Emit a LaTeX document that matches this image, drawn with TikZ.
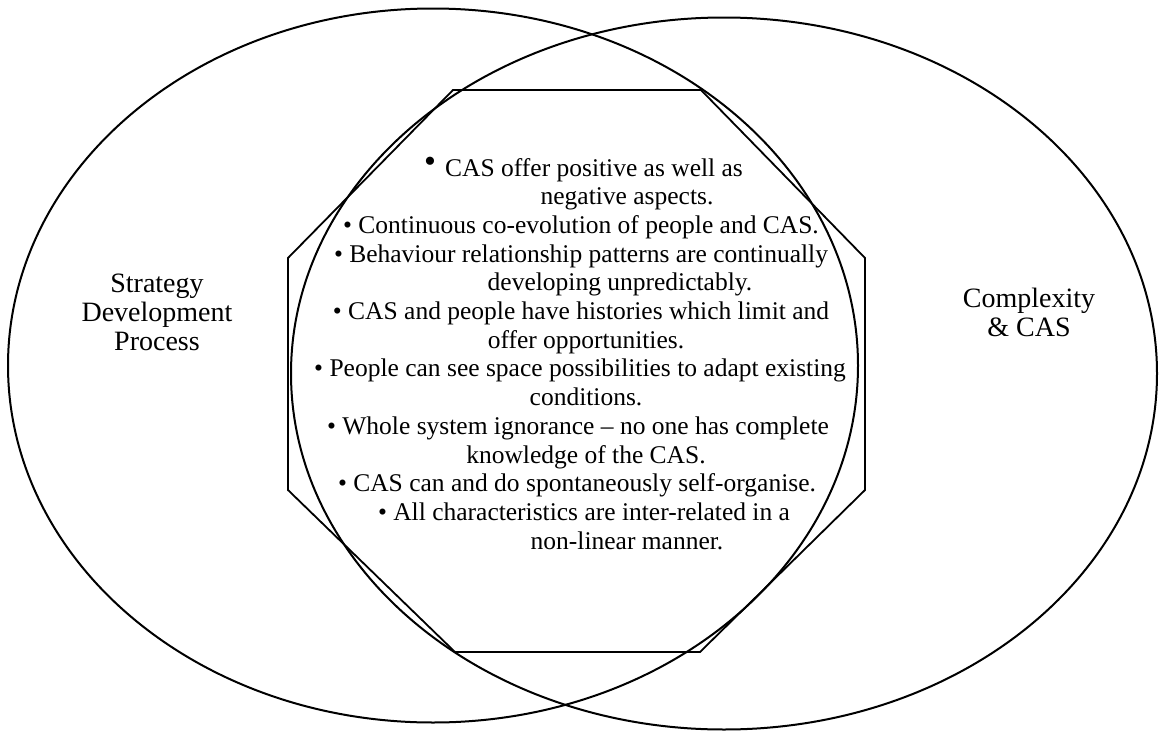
\documentclass[tikz,border=0pt]{standalone}
\usepackage{fontspec}
\setmainfont{Liberation Serif}
\begin{document}
\begin{tikzpicture}[x=1pt,y=-1pt,
  venn/.style={draw=black,line width=2pt},
  item/.style={inner sep=0pt,anchor=base,font=\fontsize{25.5}{29}\selectfont},
  side/.style={inner sep=0pt,anchor=base,font=\fontsize{28}{30}\selectfont}]
\useasboundingbox (0,0) rectangle (1160,731);

% the two overlapping sets
\draw[venn] (433,365.5) ellipse [x radius=425pt, y radius=357pt];
\draw[venn] (724,373.5) ellipse [x radius=433pt, y radius=356pt];

% octagon framing the shared characteristics
\draw[venn,line width=1.8pt] (453,90) -- (701,90) -- (865,258) -- (865,490)
  -- (700,652) -- (455,652) -- (288,490) -- (288,258) -- cycle;

% set labels
\node[side] (sdp1) at (157,292) {Strategy};
\node[side] (sdp2) at (157,321) {Development};
\node[side] (sdp3) at (157,350) {Process};
\node[side] (cx1) at (1029,307) {Complexity};
\node[side] (cx2) at (1029,336) {\& CAS};

% list of shared characteristics
\node[inner sep=0pt,font=\fontsize{34}{34}\selectfont] (b1) at (430,165) {•};
\node[item,anchor=base west] (l1) at (445,176) {CAS offer positive as well as};
\node[item] (l2) at (627,204.7) {negative aspects.};
\node[item] (l3) at (581,233.4) {• Continuous co-evolution of people and CAS.};
\node[item] (l4) at (581,262.1) {• Behaviour relationship patterns are continually};
\node[item] (l5) at (620,290.8) {developing unpredictably.};
\node[item] (l6) at (581,319.5) {• CAS and people have histories which limit and};
\node[item] (l7) at (586,348.2) {offer opportunities.};
\node[item] (l8) at (580,376.9) {• People can see space possibilities to adapt existing};
\node[item] (l9) at (586,405.6) {conditions.};
\node[item] (l10) at (578,434.3) {• Whole system ignorance – no one has complete};
\node[item] (l11) at (586,463) {knowledge of the CAS.};
\node[item] (l12) at (577,491.7) {• CAS can and do spontaneously self-organise.};
\node[item] (l13) at (584,520.4) {• All characteristics are inter-related in a};
\node[item] (l14) at (627,549.1) {non-linear manner.};
\end{tikzpicture}
\end{document}
